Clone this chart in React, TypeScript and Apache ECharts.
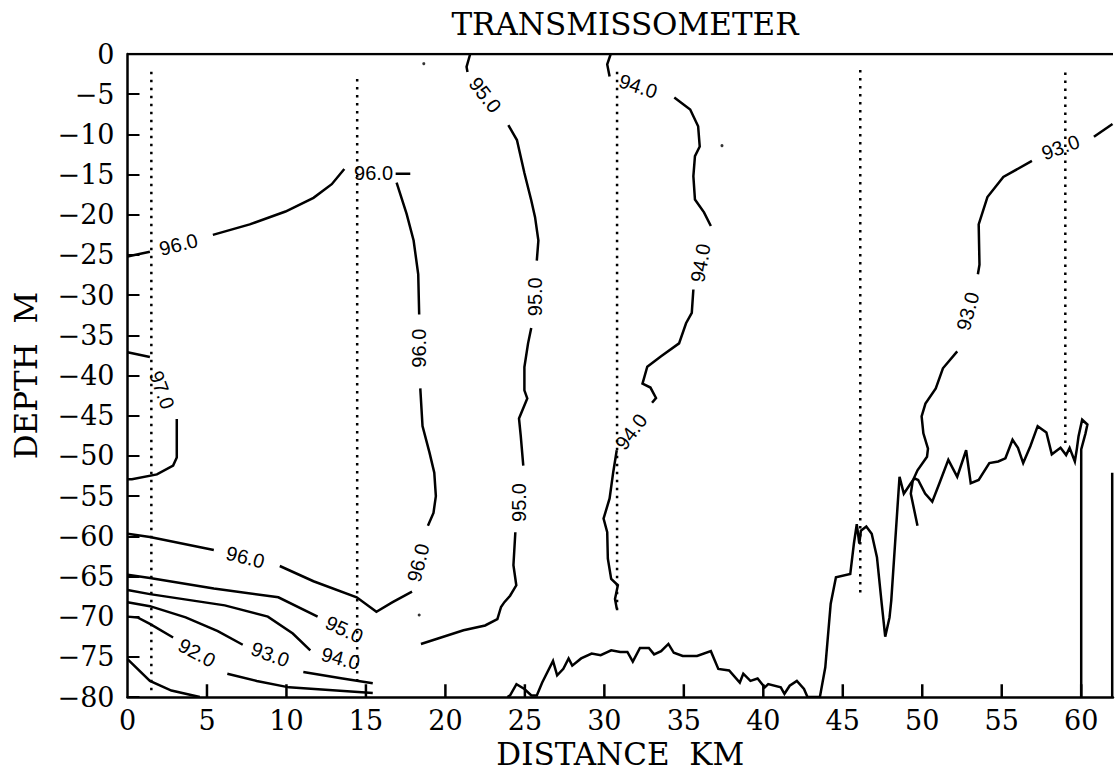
import React, { useEffect, useRef } from "react";
import * as echarts from "echarts";

// ---- data (distance km, depth m) ----
const xMax = 62;
const xInterval = 5;
const yMin = -80;
const yInterval = 5;
const xTickValues = [5, 10, 15, 20, 25, 30, 35, 40, 45, 50, 55, 60];

const contour97: number[][][] = [
  [[0, -37.1], [1.41, -37.7]],
  [[3.1, -45.4], [3.1, -50.2], [2.87, -51.2], [1.85, -52.3], [0.28, -52.9], [0, -52.9]],
];

const contour96: number[][][] = [
  [[0, -25.2], [1.41, -24.6]],
  [[5.37, -22.5], [7.69, -21.2], [9.94, -19.6], [11.7, -17.9], [12.85, -16.2], [13.64, -14.3]],
  [[16.87, -14.9], [17.79, -14.9]],
  [[16.93, -16.0], [17.56, -19.9], [18.0, -23.2], [18.29, -27.4], [18.35, -32.4]],
  [[18.42, -41.6], [18.56, -46.3], [19.0, -49.6], [19.3, -52.1], [19.4, -55.0], [19.25, -57.1], [18.9, -58.7]],
  [[17.9, -66.9], [16.68, -68.2], [15.66, -69.4], [14.42, -67.6], [11.7, -65.6], [9.58, -63.7]],
  [[5.43, -61.7], [1.41, -60.1], [0, -59.7]],
];

const contour95Left: number[][][] = [
  [[0, -64.8], [1.41, -65.2], [5.43, -66.5], [9.49, -67.6], [11.96, -70.0]],
];

const contour94Left: number[][][] = [
  [[0, -66.7], [1.41, -67.2], [6.12, -68.6], [8.83, -70.0], [10.4, -72.1], [11.5, -74.2]],
];

const contour93Left: number[][][] = [
  [[0, -68.2], [1.41, -68.7], [3.66, -70.1], [5.68, -71.8], [7.25, -73.5]],
  [[11.06, -76.9], [13.53, -77.7], [15.43, -78.3]],
];

const contour92: number[][][] = [
  [[0, -70.0], [0.63, -70.1], [1.41, -70.9], [2.87, -72.6]],
  [[6.28, -77.1], [8.13, -78.0], [10.16, -78.8], [15.43, -79.5]],
];

const contour91: number[][][] = [
  [[0, -75.3], [1.41, -78.0], [2.76, -79.2], [4.55, -80]],
];

const contour95: number[][][] = [
  [[21.56, 0], [21.33, -1.6], [21.39, -2.25]],
  [[23.96, -8.85], [24.5, -10.7], [24.97, -14.8], [25.4, -18.2], [25.64, -20.3], [25.85, -23.2], [25.75, -25.7]],
  [[25.4, -34.1], [25.2, -36.0], [24.97, -38.95], [24.97, -41.85], [25.15, -42.85], [24.63, -45.35], [24.74, -47.5], [24.9, -51.2]],
  [[24.4, -59.5], [24.28, -63.6], [24.46, -66.1], [24.07, -67.4], [23.71, -68.2], [23.5, -68.8], [23.27, -70.3], [22.5, -71.1], [21.14, -71.7], [18.46, -73.4]],
];

const contour94: number[][][] = [
  [[30.4, 0], [30.18, -1.3], [30.33, -2.8]],
  [[34.4, -5.4], [35.4, -6.9], [35.9, -9.0], [36.0, -11.5], [35.7, -12.7], [35.6, -15.2], [35.7, -18.1], [36.27, -19.7], [36.7, -21.4]],
  [[35.6, -29.3], [35.5, -32.2], [35.14, -33.5], [34.7, -36.0], [33.57, -37.6], [32.7, -38.9], [32.4, -41.0], [32.9, -41.5], [33.25, -42.8], [33.0, -43.4]],
  [[30.78, -49.3], [30.56, -52.0], [30.33, -55.3], [29.95, -57.8], [30.18, -59.5], [30.22, -62.8], [30.43, -65.3], [30.85, -66.1], [30.67, -67.8], [30.78, -69.0]],
];

const contour93: number[][][] = [
  [[61.97, -8.7], [60.8, -10.3]],
  [[56.9, -13.3], [55.1, -15.3], [54.1, -17.8], [53.55, -21.2], [53.6, -26.2], [53.5, -27.4]],
  [[52.2, -37.0], [51.3, -39.1], [50.85, -41.6], [50.2, -43.5], [49.96, -45.1], [50.07, -47.2], [50.36, -49.1], [50.3, -50.1], [49.7, -51.8], [49.4, -53.1], [49.28, -54.7], [49.5, -56.8], [49.7, -58.7]],
];

const bottomProfile: number[][] = [
  [23.9, -80], [24.07, -79.8], [24.47, -78.4], [24.97, -79.0], [25.41, -79.8], [25.75, -79.8], [26.09, -78.2],
  [26.77, -75.5], [27.03, -77.3], [27.42, -76.5], [27.75, -75.2], [27.98, -76.1], [28.54, -75.2], [29.2, -74.6],
  [29.77, -74.8], [30.43, -74.2], [31.0, -74.4], [31.45, -74.4], [31.79, -75.6], [32.24, -73.9], [32.8, -73.9],
  [33.13, -74.7], [33.57, -74.3], [34.03, -73.4], [34.37, -74.5], [34.93, -74.9], [35.83, -74.9], [36.7, -74.3],
  [37.17, -76.5], [37.85, -76.7], [38.52, -78.2], [38.74, -77.1], [39.19, -78.0], [39.64, -77.7], [40.09, -78.8],
  [40.31, -78.4], [41.1, -78.8], [41.33, -79.6], [41.66, -78.6], [42.11, -78.0], [42.56, -79.0], [42.78, -80],
  [43.56, -80], [43.9, -76.3], [44.24, -68.4], [44.57, -65.1], [45.47, -64.7], [45.7, -60.9], [45.88, -58.5],
  [46.04, -60.9], [46.14, -59.3], [46.48, -58.8], [46.82, -59.7], [47.15, -62.6], [47.45, -68.4], [47.67, -72.5],
  [47.94, -70.1], [48.05, -68.0], [48.57, -52.6], [48.84, -54.7], [49.28, -53.4], [49.51, -52.8], [49.74, -53.0],
  [50.18, -54.7], [50.63, -55.7], [51.08, -53.4], [51.64, -50.5], [52.2, -52.6], [52.76, -49.3], [53.05, -53.4],
  [53.55, -53.0], [54.22, -50.9], [54.78, -50.7], [55.23, -50.3], [55.68, -48.0], [56.02, -49.0], [56.35, -50.9],
  [56.8, -48.8], [57.26, -46.3], [57.81, -47.1], [58.15, -49.8], [58.7, -49.0], [59.05, -49.9], [59.27, -49.0],
  [59.6, -50.7], [59.72, -49.2], [59.83, -47.6], [60.06, -45.5], [60.39, -46.1], [60.27, -47.2], [60.0, -49.2],
  [60.0, -80],
];

const rightEdge: number[][] = [[61.95, -52.1], [61.95, -80]];
const topEdge: number[][] = [[0, 0], [62, 0]];

const stations: number[][][] = [
  [[1.5, -2.2], [1.5, -79.6]],
  [[14.45, -3.1], [14.45, -78]],
  [[30.8, -2.2], [30.8, -69.5]],
  [[46.1, -2.0], [46.1, -67.6]],
  [[59.0, -2.3], [59.0, -48.8]],
];

const specks: number[][] = [[18.64, -1.2], [37.4, -11.4], [18.35, -69.8]];

// contour labels: text, distance, depth, angle along the line
const labelTexts = ["96.0", "96.0", "96.0", "96.0", "96.0", "97.0", "95.0", "94.0", "93.0", "92.0",
  "95.0", "95.0", "95.0", "94.0", "94.0", "94.0", "93.0", "93.0"];
const labelX = [3.21, 15.48, 18.35, 18.29, 7.42, 2.17, 13.64, 13.41, 8.98, 4.37,
  22.5, 25.64, 24.63, 32.13, 36.05, 31.68, 58.7, 52.86];
const labelY = [-23.7, -14.8, -36.6, -63.3, -62.6, -41.8, -71.6, -75.2, -74.7, -74.5,
  -5.1, -30.2, -55.8, -4.0, -26.0, -47.0, -11.6, -32.0];
const labelAngle = [14, 0, 90, 76, -14, -70, -25, -15, -20, -28,
  -52, 90, 90, -18, 80, 53, 20, 75];

const contourSegments: number[][][] = [
  ...contour97, ...contour96, ...contour95Left, ...contour94Left, ...contour93Left,
  ...contour92, ...contour91, ...contour95, ...contour94, ...contour93,
];

const serif = "DejaVu Serif";
const tickDepth = 1.6; // inward tick length expressed in metres of depth

export default function App() {
  const ref = useRef<HTMLDivElement>(null);

  useEffect(() => {
    if (!ref.current) return;
    const chart = echarts.init(ref.current, undefined, { renderer: "svg" });
    const black = "#000";
    chart.setOption({
      animation: false,
      backgroundColor: "#fff",
      title: {
        text: "TRANSMISSOMETER",
        left: 620,
        top: 3,
        textAlign: "center",
        textStyle: { fontFamily: serif, fontSize: 31, fontWeight: "normal", color: black },
      },
      grid: { left: 127.5, top: 54, right: 2, bottom: 78, containLabel: false },
      xAxis: {
        type: "value",
        min: 0,
        max: xMax,
        interval: xInterval,
        position: "bottom",
        axisLine: { show: true, onZero: false, lineStyle: { color: black, width: 2.5 } },
        axisTick: { show: false },
        axisLabel: {
          showMaxLabel: false,
          color: black,
          fontFamily: serif,
          fontSize: 27,
          margin: 10,
          formatter: (v: number) => (v % xInterval === 0 ? String(v) : ""),
        },
        splitLine: { show: false },
        name: "DISTANCE  KM",
        nameLocation: "middle",
        nameGap: 41,
        nameTextStyle: { fontFamily: serif, fontSize: 31, color: black },
      },
      yAxis: {
        type: "value",
        min: yMin,
        max: 0,
        interval: yInterval,
        axisLine: { show: true, onZero: false, lineStyle: { color: black, width: 2.5 } },
        axisTick: { show: true, inside: true, length: 12, lineStyle: { color: black, width: 2 } },
        axisLabel: {
          color: black,
          fontFamily: serif,
          fontSize: 27,
          margin: 13,
          formatter: (v: number) => (v === 0 ? "0" : "\u2212" + Math.abs(v)),
        },
        splitLine: { show: false },
        name: "DEPTH  M",
        nameLocation: "middle",
        nameRotate: 90,
        nameGap: 86,
        nameTextStyle: { fontFamily: serif, fontSize: 31, color: black },
      },
      series: [
        {
          type: "lines",
          coordinateSystem: "cartesian2d",
          polyline: true,
          silent: true,
          lineStyle: { color: black, width: 2.5, opacity: 1 },
          data: contourSegments.map((c) => ({ coords: c })),
        },
        {
          type: "lines",
          coordinateSystem: "cartesian2d",
          polyline: true,
          silent: true,
          lineStyle: { color: black, width: 2.5, opacity: 1 },
          data: [{ coords: bottomProfile }, { coords: rightEdge }, { coords: topEdge }],
        },
        {
          type: "lines",
          coordinateSystem: "cartesian2d",
          polyline: true,
          silent: true,
          lineStyle: { color: black, width: 2.5, opacity: 1 },
          data: xTickValues.map((v) => ({ coords: [[v, yMin], [v, yMin + tickDepth]] })),
        },
        {
          type: "lines",
          coordinateSystem: "cartesian2d",
          polyline: true,
          silent: true,
          lineStyle: { color: black, width: 2.5, opacity: 1, type: [2.5, 5.5] },
          data: stations.map((c) => ({ coords: c })),
        },
        {
          type: "scatter",
          silent: true,
          symbol: "circle",
          symbolSize: 3,
          itemStyle: { color: black },
          data: specks,
        },
        {
          type: "scatter",
          silent: true,
          symbolSize: 0,
          itemStyle: { color: black, opacity: 1 },
          label: {
            show: true,
            position: "inside",
            formatter: (p: any) => p.name,
            fontFamily: "Liberation Sans",
            fontSize: 20,
            color: black,
            opacity: 1,
            textBorderWidth: 0,
          },
          data: labelTexts.map((t, i) => ({
            name: t,
            value: [labelX[i], labelY[i]],
            label: { rotate: labelAngle[i] },
          })),
        },
      ],
    });
    return () => chart.dispose();
  }, []);

  return (
    <div
      ref={ref}
      style={{ position: "absolute", left: 0, top: 0, width: 1115, height: 775, background: "#fff" }}
    />
  );
}
